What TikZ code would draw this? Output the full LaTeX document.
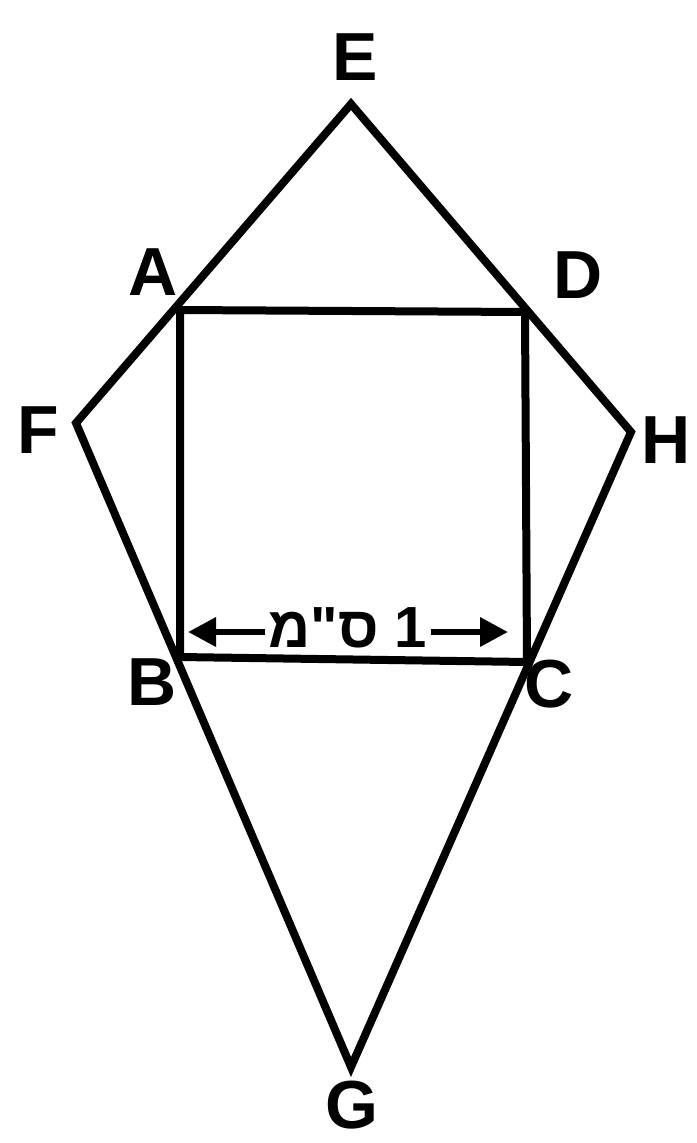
\documentclass[tikz,border=0pt]{standalone}
\usepackage{fontspec}
\setmainfont{Liberation Sans}
\newfontfamily\hebfont[Script=Hebrew]{Liberation Sans}
\TeXXeTstate=1
\usetikzlibrary{arrows.meta}
\begin{document}
\begin{tikzpicture}[x=1pt,y=-1pt,
  edge/.style={line width=8pt,line join=miter,line cap=round},
  lab/.style={font=\fontsize{68}{70}\selectfont\bfseries,inner sep=0pt},
  dim/.style={line width=6.5pt,-{Triangle[length=28pt,width=28pt]}}]
\useasboundingbox (0,0) rectangle (696,1143);
\fill[white] (0,0) rectangle (696,1143);
\coordinate (E) at (351,104);
\coordinate (A) at (180,310);
\coordinate (D) at (525,312);
\coordinate (F) at (76,423);
\coordinate (H) at (631,432);
\coordinate (B) at (180,657);
\coordinate (C) at (527,662);
\coordinate (G) at (351,1067);
\draw[edge] (F) -- (E) -- (H) -- (G) -- cycle;
\draw[edge] (A) -- (D) -- (C) -- (B) -- cycle;
\node[lab] (lE) at (355,57) {E};
\node[lab] (lA) at (153,272) {A};
\node[lab] (lD) at (578,275) {D};
\node[lab] (lF) at (38,430) {F};
\node[lab] (lH) at (666,440) {H};
\node[lab] (lB) at (152,682) {B};
\node[lab] (lC) at (549,684) {C};
\node[lab] (lG) at (352,1105) {G};
\node[inner sep=2pt,font=\fontsize{58}{60}\selectfont\bfseries] (lbl) at (348,628) {\hebfont\beginR 1 ס"מ\endR};
\coordinate (arrL) at (188,632);
\coordinate (arrR) at (508,632);
\draw[dim] (lbl.west |- arrL) ++(-2,0) -- (arrL);
\draw[dim] (lbl.east |- arrR) ++(2,0) -- (arrR);
\end{tikzpicture}
\end{document}
